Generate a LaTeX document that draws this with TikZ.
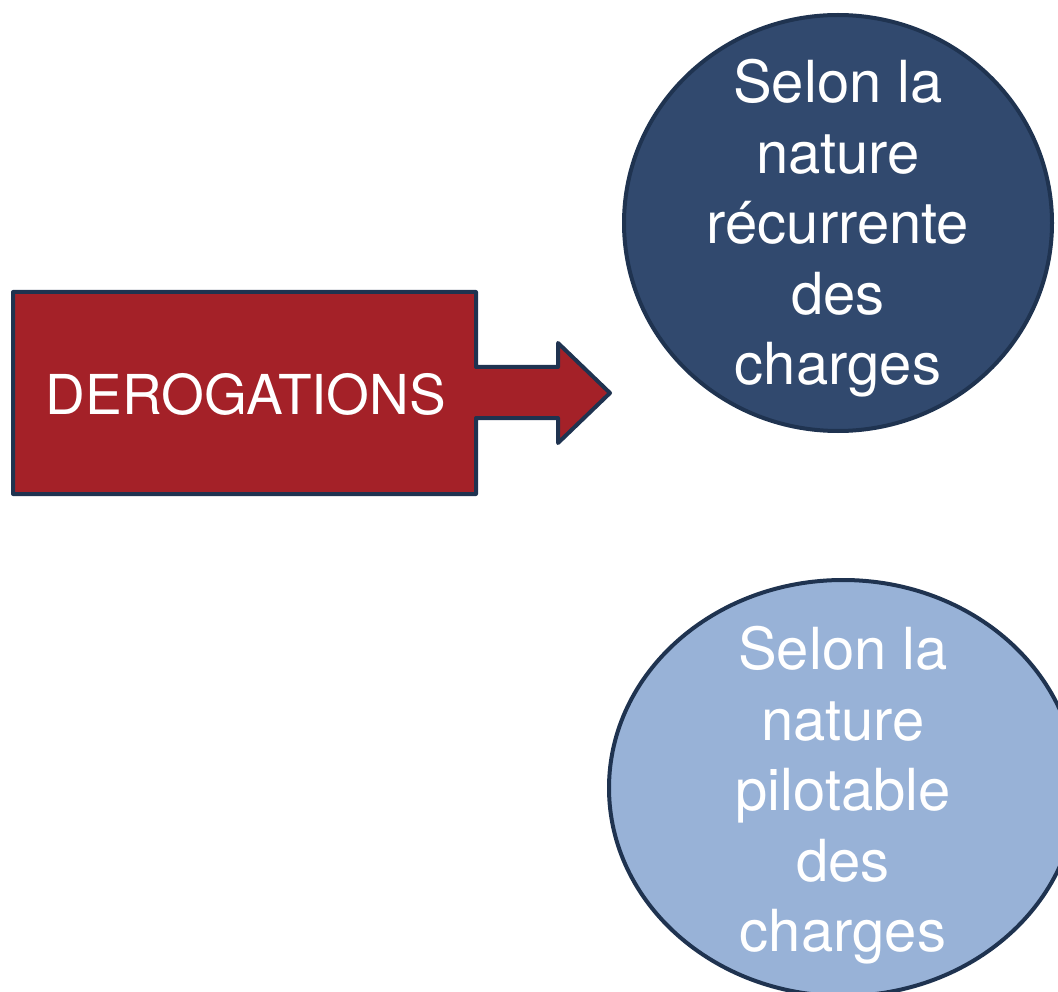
\documentclass[tikz,border=0pt]{standalone}
\usepackage{fontspec}
\setmainfont{TeX Gyre Heros}
\usetikzlibrary{shapes.geometric}
\definecolor{rouge}{HTML}{A42128}
\definecolor{bleufonce}{HTML}{31496E}
\definecolor{bleuclair}{HTML}{98B2D7}
\definecolor{contour}{HTML}{1F3350}
\begin{document}
\begin{tikzpicture}[x=1pt,y=-1pt,
  formebord/.style={draw=contour,line width=4pt,line join=round},
  textebulle/.style={text=white,align=center,inner sep=0pt,font=\fontsize{58}{70.5}\selectfont},
  texteder/.style={text=white,inner sep=0pt,font=\fontsize{55}{66}\selectfont}]
\useasboundingbox (0,0) rectangle (1058,992);
% red callout with arrow
\path[formebord,fill=rouge] (13,292) -- (476,292) -- (476,367) -- (558,367) -- (558,343)
  -- (610,393) -- (558,443) -- (558,418) -- (476,418) -- (476,494) -- (13,494) -- cycle;
\node[texteder,anchor=base] (der) at (246,414) {DEROGATIONS};
% top circle
\path[formebord,fill=bleufonce] (838,223) ellipse [x radius=214, y radius=208];
\node[textebulle] (haut) at (838,228.5) {Selon la\\nature\\récurrente\\des\\charges};
% bottom circle
\path[formebord,fill=bleuclair] (843,788) ellipse [x radius=234, y radius=208];
\node[textebulle] (bas) at (843,795.5) {Selon la\\nature\\pilotable\\des\\charges};
\end{tikzpicture}
\end{document}
